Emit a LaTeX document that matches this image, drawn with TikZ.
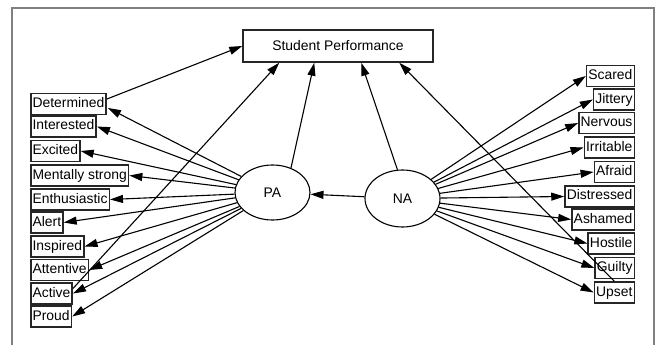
\documentclass[tikz,border=0pt]{standalone}
\usepackage{fontspec}
\setmainfont{Liberation Sans}
\usetikzlibrary{arrows.meta,shapes.geometric,calc}
\begin{document}
\begin{tikzpicture}[x=1pt,y=-1pt,
  every node/.style={font=\fontsize{13.9pt}{15pt}\selectfont},
  obs/.style={draw=black!85, line width=1.5pt, rectangle, inner xsep=1.8pt, inner ysep=4pt, text height=10pt, text depth=3pt, minimum height=21pt},
  lat/.style={draw=black, line width=1.1pt, ellipse, inner sep=0pt},
  arr/.style={draw=black, line width=1.1pt, -{Triangle[length=13pt,width=8pt]}}
]
\useasboundingbox (0,0) rectangle (657,345);
\draw[black!50, line width=1.2pt] (12,345) -- (12,8) -- (654,8) -- (654,345);

\node[draw=black!85, line width=1.5pt, minimum width=190pt, minimum height=32pt, inner sep=0pt] (SP) at (338,46) {Student Performance};

\node[lat, minimum width=75pt, minimum height=55pt] (PA) at (272.5,192.5) {PA};
\node[lat, minimum width=75pt, minimum height=57pt] (NA) at (402.5,198.5) {NA};

% left indicators
\node[obs, anchor=west] (Det) at (30,104) {Determined};
\node[obs, anchor=west] (Int) at (30,126.5) {Interested};
\node[obs, anchor=west] (Exc) at (30,151) {Excited};
\node[obs, anchor=west] (Men) at (30,175.5) {Mentally strong};
\node[obs, anchor=west] (Ent) at (30,199.5) {Enthusiastic};
\node[obs, anchor=west] (Ale) at (30,222.5) {Alert};
\node[obs, anchor=west] (Ins) at (30,246.5) {Inspired};
\node[obs, anchor=west] (Att) at (30,270) {Attentive};
\node[obs, anchor=west] (Act) at (30,293.5) {Active};
\node[obs, anchor=west] (Pro) at (30,316.5) {Proud};

% right indicators
\node[obs, anchor=east] (Sca) at (635,76) {Scared};
\node[obs, anchor=east] (Jit) at (635,99.5) {Jittery};
\node[obs, anchor=east] (Ner) at (635,123) {Nervous};
\node[obs, anchor=east] (Irr) at (635,147.5) {Irritable};
\node[obs, anchor=east] (Afr) at (635,172) {Afraid};
\node[obs, anchor=east] (Dis) at (635,196.5) {Distressed};
\node[obs, anchor=east] (Ash) at (635,219.5) {Ashamed};
\node[obs, anchor=east] (Hos) at (635,243.5) {Hostile};
\node[obs, anchor=east] (Gui) at (635,268) {Guilty};
\node[obs, anchor=east] (Ups) at (635,292.5) {Upset};

% PA -> left
\draw[arr] (PA) -- ($(Det.east)+(1,4)$);
\foreach \t in {Int,Exc,Men,Ent,Ale,Ins,Att,Act,Pro}
  \draw[arr] (PA) -- (\t.east);
% NA -> right
\foreach \t in {Sca,Jit,Ner,Irr,Afr,Dis,Ash,Hos,Gui,Ups}
  \draw[arr] (NA) -- (\t.west);
% NA -> PA
\draw[arr] (NA) -- (PA);

% to Student Performance
\draw[arr] ($(Det.east)+(0,-5)$) -- (SP.west);
\draw[arr] ($(Act.east)+(0,-5)$) -- ($(SP.south west)+(37,0)$);
\draw[arr] (PA.53) -- ($(SP.south west)+(72,0)$);
\draw[arr] (NA.100) -- ($(SP.south west)+(119,0)$);
\draw[arr] (Ups.north) -- ($(SP.south west)+(157,0)$);
\end{tikzpicture}
\end{document}
